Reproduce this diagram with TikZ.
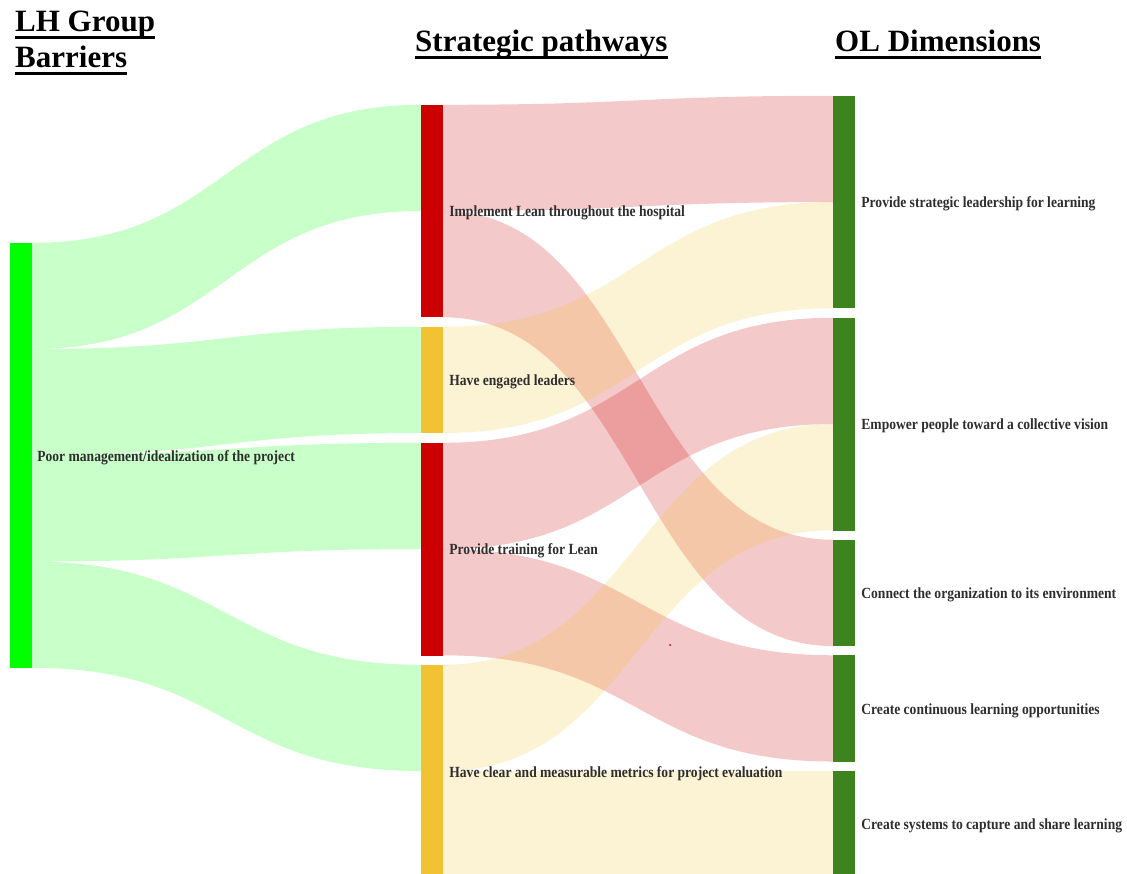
\documentclass[tikz,border=0pt]{standalone}
\usepackage{fontspec}
\setmainfont{Liberation Serif}
\usetikzlibrary{calc}

\definecolor{barGreen}{HTML}{00FF00}
\definecolor{barRed}{HTML}{CC0000}
\definecolor{barYellow}{HTML}{F1C232}
\definecolor{barDark}{HTML}{3D841F}
\definecolor{lblText}{HTML}{2E2E2E}

% one unit of flow, in px
\newcommand\U{106.25}

% band between two bars: colour, source, offset below source top,
% target, offset below target top, thickness
\newcommand\flow[6]{%
  \fill[#1, fill opacity=0.21]
    let \p1=(#2.north east), \p2=(#4.north west),
        \n1={(\x1+\x2)/2} in
    (\x1,\y1-#3pt) .. controls (\n1,\y1-#3pt) and (\n1,\y2-#5pt) .. (\x2,\y2-#5pt)
    -- (\x2,\y2-#5pt-#6pt)
    .. controls (\n1,\y2-#5pt-#6pt) and (\n1,\y1-#3pt-#6pt) .. (\x1,\y1-#3pt-#6pt)
    -- cycle;}

\newcommand\lbltext[1]{\scalebox{0.875}[1]{#1}}

\tikzset{
  bar/.style={rectangle, draw=none, inner sep=0pt, minimum width=22pt},
  lbl/.style={anchor=west, inner sep=0pt, text=lblText, yshift=-2pt,
    font=\fontsize{15.5}{16}\selectfont\bfseries},
  heading/.style={anchor=base west, inner sep=0pt,
    font=\fontsize{31}{34}\selectfont\bfseries},
  uline/.style={line width=3pt},
}

\begin{document}
\begin{tikzpicture}[x=1pt, y=-1pt]
\useasboundingbox (0,0) rectangle (1127,874);
\begin{scope}
\clip (0,0) rectangle (1127,874);

% bars
\node[bar, fill=barGreen, minimum height=425pt] (L) at (21,455.5) {};

\node[bar, fill=barRed,    minimum height=212.5pt]  (M1) at (432,211.25) {};
\node[bar, fill=barYellow, minimum height=106.25pt] (M2) at (432,380.1) {};
\node[bar, fill=barRed,    minimum height=212.5pt]  (M3) at (432,549.25) {};
\node[bar, fill=barYellow, minimum height=212.5pt]  (M4) at (432,771.25) {};

\node[bar, fill=barDark, minimum height=212.5pt]  (R1) at (844,202.25) {};
\node[bar, fill=barDark, minimum height=212.5pt]  (R2) at (844,424.25) {};
\node[bar, fill=barDark, minimum height=106.25pt] (R3) at (844,593.1) {};
\node[bar, fill=barDark, minimum height=106.25pt] (R4) at (844,708.6) {};
\node[bar, fill=barDark, minimum height=106.25pt] (R5) at (844,824.1) {};

% barrier -> pathways
\flow{barGreen}{L}{0}{M1}{0}{\U}
\flow{barGreen}{L}{\U}{M2}{0}{\U}
\flow{barGreen}{L}{212.5}{M3}{0}{\U}
\flow{barGreen}{L}{318.75}{M4}{0}{\U}

% pathways -> dimensions
\flow{barRed}{M1}{0}{R1}{0}{\U}
\flow{barRed}{M1}{\U}{R3}{0}{\U}
\flow{barYellow}{M2}{0}{R1}{\U}{\U}
\flow{barRed}{M3}{0}{R2}{0}{\U}
\flow{barRed}{M3}{\U}{R4}{0}{\U}
\flow{barYellow}{M4}{0}{R2}{\U}{\U}
\flow{barYellow}{M4}{\U}{R5}{0}{\U}

% small mark
\fill[barRed] (670,645) circle (1pt);
\end{scope}

% labels
\node[lbl] (lL)  at ([xshift=5pt]L.east)  {\lbltext{Poor management/idealization of the project}};
\node[lbl] (lM1) at ([xshift=6pt]M1.east) {\lbltext{Implement Lean throughout the hospital}};
\node[lbl] (lM2) at ([xshift=6pt]M2.east) {\lbltext{Have engaged leaders}};
\node[lbl] (lM3) at ([xshift=6pt]M3.east) {\lbltext{Provide training for Lean}};
\node[lbl] (lM4) at ([xshift=6pt]M4.east) {\lbltext{Have clear and measurable metrics for project evaluation}};
\node[lbl] (lR1) at ([xshift=6pt]R1.east) {\lbltext{Provide strategic leadership for learning}};
\node[lbl] (lR2) at ([xshift=6pt]R2.east) {\lbltext{Empower people toward a collective vision}};
\node[lbl] (lR3) at ([xshift=6pt]R3.east) {\lbltext{Connect the organization to its environment}};
\node[lbl] (lR4) at ([xshift=6pt]R4.east) {\lbltext{Create continuous learning opportunities}};
\node[lbl] (lR5) at ([xshift=6pt]R5.east) {\lbltext{Create systems to capture and share learning}};

% column headings
\node[heading] (h1a) at (15,32) {LH Group};
\node[heading] (h1b) at (15,67.5) {Barriers};
\node[heading] (h2)  at (415,52) {Strategic pathways};
\node[heading] (h3)  at (835,52) {OL Dimensions};
\foreach \h in {h1a,h1b,h2,h3}
  \draw[uline] ([yshift=-6pt]\h.base west) -- ([yshift=-6pt]\h.base east);
\end{tikzpicture}
\end{document}
